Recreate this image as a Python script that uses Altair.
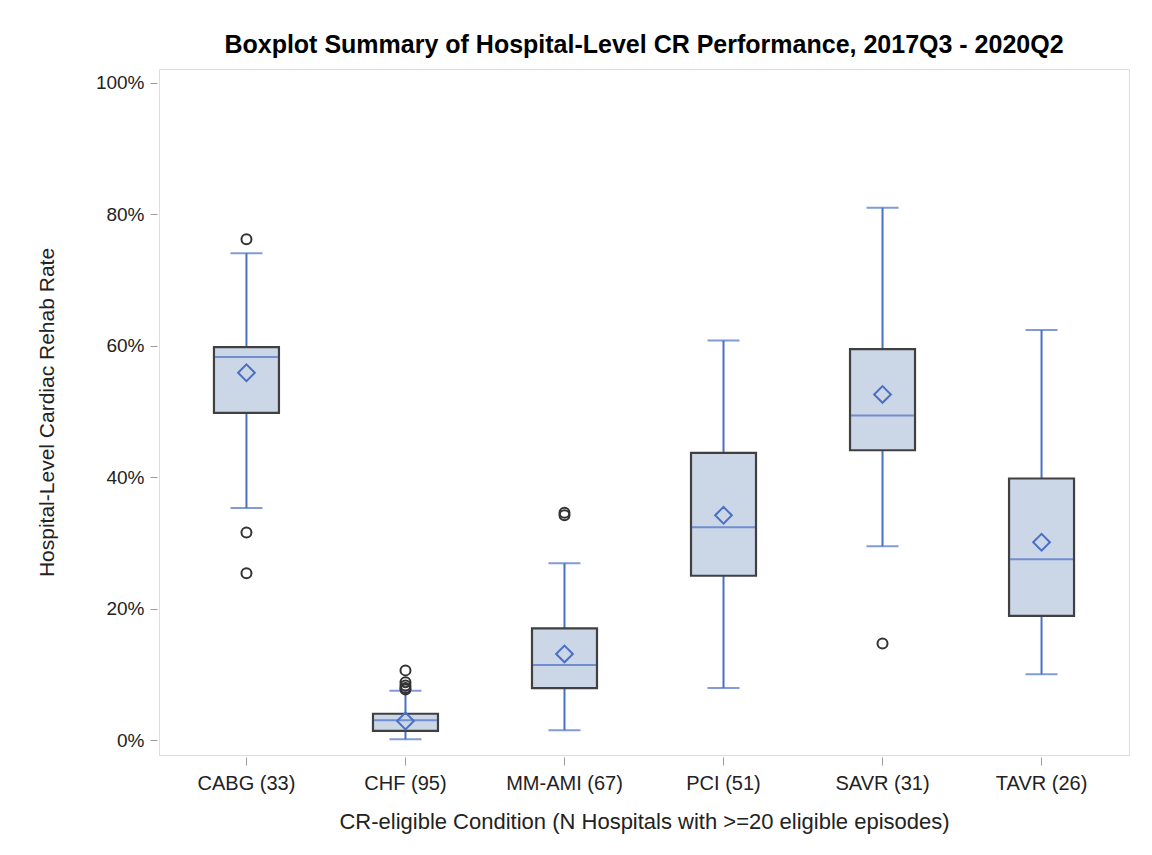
import altair as alt
import pandas as pd

categories = ["CABG (33)", "CHF (95)", "MM-AMI (67)", "PCI (51)", "SAVR (31)", "TAVR (26)"]
whisker_low = [35.3, 0.1, 1.5, 7.9, 29.5, 10.0]
q1 = [49.8, 1.4, 7.9, 25.0, 44.1, 18.9]
median = [58.3, 3.0, 11.4, 32.4, 49.4, 27.5]
q3 = [59.8, 4.0, 17.0, 43.7, 59.5, 39.8]
whisker_high = [74.1, 7.5, 26.9, 60.8, 81.0, 62.4]
mean = [55.9, 2.9, 13.1, 34.2, 52.6, 30.1]

outlier_cat = ["CABG (33)", "CABG (33)", "CABG (33)",
               "CHF (95)", "CHF (95)", "CHF (95)", "CHF (95)", "CHF (95)",
               "MM-AMI (67)", "MM-AMI (67)",
               "SAVR (31)"]
outlier_val = [76.2, 31.6, 25.4,
               10.6, 8.8, 8.3, 7.9, 7.7,
               34.2, 34.6,
               14.7]

stats = pd.DataFrame({
    "cat": categories, "lo": whisker_low, "q1": q1, "med": median,
    "q3": q3, "hi": whisker_high, "mean": mean,
})
outs = pd.DataFrame({"cat": outlier_cat, "val": outlier_val})

BLUE = "#4A70C6"
FONT = "Liberation Sans"

xenc = alt.X("cat:N", sort=categories,
             scale=alt.Scale(type="band", paddingInner=0, paddingOuter=0.05),
             axis=alt.Axis(title="CR-eligible Condition (N Hospitals with >=20 eligible episodes)",
                           labelAngle=0, domain=False, ticks=True, tickSize=8,
                           tickColor="#9A9A9A", offset=2, labelPadding=8,
                           labelFontSize=20, titleFontSize=22, titlePadding=18,
                           labelColor="#222", titleColor="#222",
                           labelFont=FONT, titleFont=FONT, titleFontWeight="normal"))
yscale = alt.Scale(domain=[-2.28, 102.13], nice=False, zero=False)
yaxis = alt.Axis(title="Hospital-Level Cardiac Rehab Rate", values=[0, 20, 40, 60, 80, 100],
                 labelExpr="datum.value + '%'", grid=False, domain=False,
                 tickSize=7, tickColor="#9A9A9A", offset=2, labelPadding=6,
                 labelFontSize=19, titleFontSize=21, titlePadding=38,
                 labelColor="#222", titleColor="#222",
                 labelFont=FONT, titleFont=FONT, titleFontWeight="normal")

base = alt.Chart(stats)

whisker = base.mark_rule(color=BLUE, strokeWidth=2).encode(
    x=xenc, y=alt.Y("lo:Q", scale=yscale, axis=yaxis), y2="hi:Q")
cap_lo = base.mark_tick(color=BLUE, size=32, thickness=2).encode(
    x=alt.X("cat:N", sort=categories), y=alt.Y("lo:Q"))
cap_hi = base.mark_tick(color=BLUE, size=32, thickness=2).encode(
    x=alt.X("cat:N", sort=categories), y=alt.Y("hi:Q"))
box = base.mark_bar(size=65, fill="#CBD6E7", stroke="#404040", strokeWidth=2.2).encode(
    x=alt.X("cat:N", sort=categories), y=alt.Y("q1:Q"), y2="q3:Q")
med = base.mark_tick(color=BLUE, size=63, thickness=2).encode(
    x=alt.X("cat:N", sort=categories), y=alt.Y("med:Q"))
mn = base.mark_point(shape="diamond", filled=False, color=BLUE, size=280, strokeWidth=2,
                     opacity=1).encode(
    x=alt.X("cat:N", sort=categories), y=alt.Y("mean:Q"))
out = alt.Chart(outs).mark_point(shape="circle", filled=False, color="#333333", size=100,
                                 strokeWidth=2, opacity=1).encode(
    x=alt.X("cat:N", sort=categories), y=alt.Y("val:Q"))

chart = alt.layer(whisker, cap_lo, cap_hi, box, med, mn, out).properties(
    width=970, height=686,
    title=alt.Title("Boxplot Summary of Hospital-Level CR Performance, 2017Q3 - 2020Q2",
                    font=FONT, fontSize=25, fontWeight="bold", color="#000",
                    anchor="middle", offset=11),
    padding={"left": 151, "top": 61, "right": 15, "bottom": 90},
    autosize="none",
).configure_view(stroke="#A8A8A8", strokeWidth=1.5).configure(background="white")

chart.save("out.html", embed_options={"renderer": "svg", "actions": False})
